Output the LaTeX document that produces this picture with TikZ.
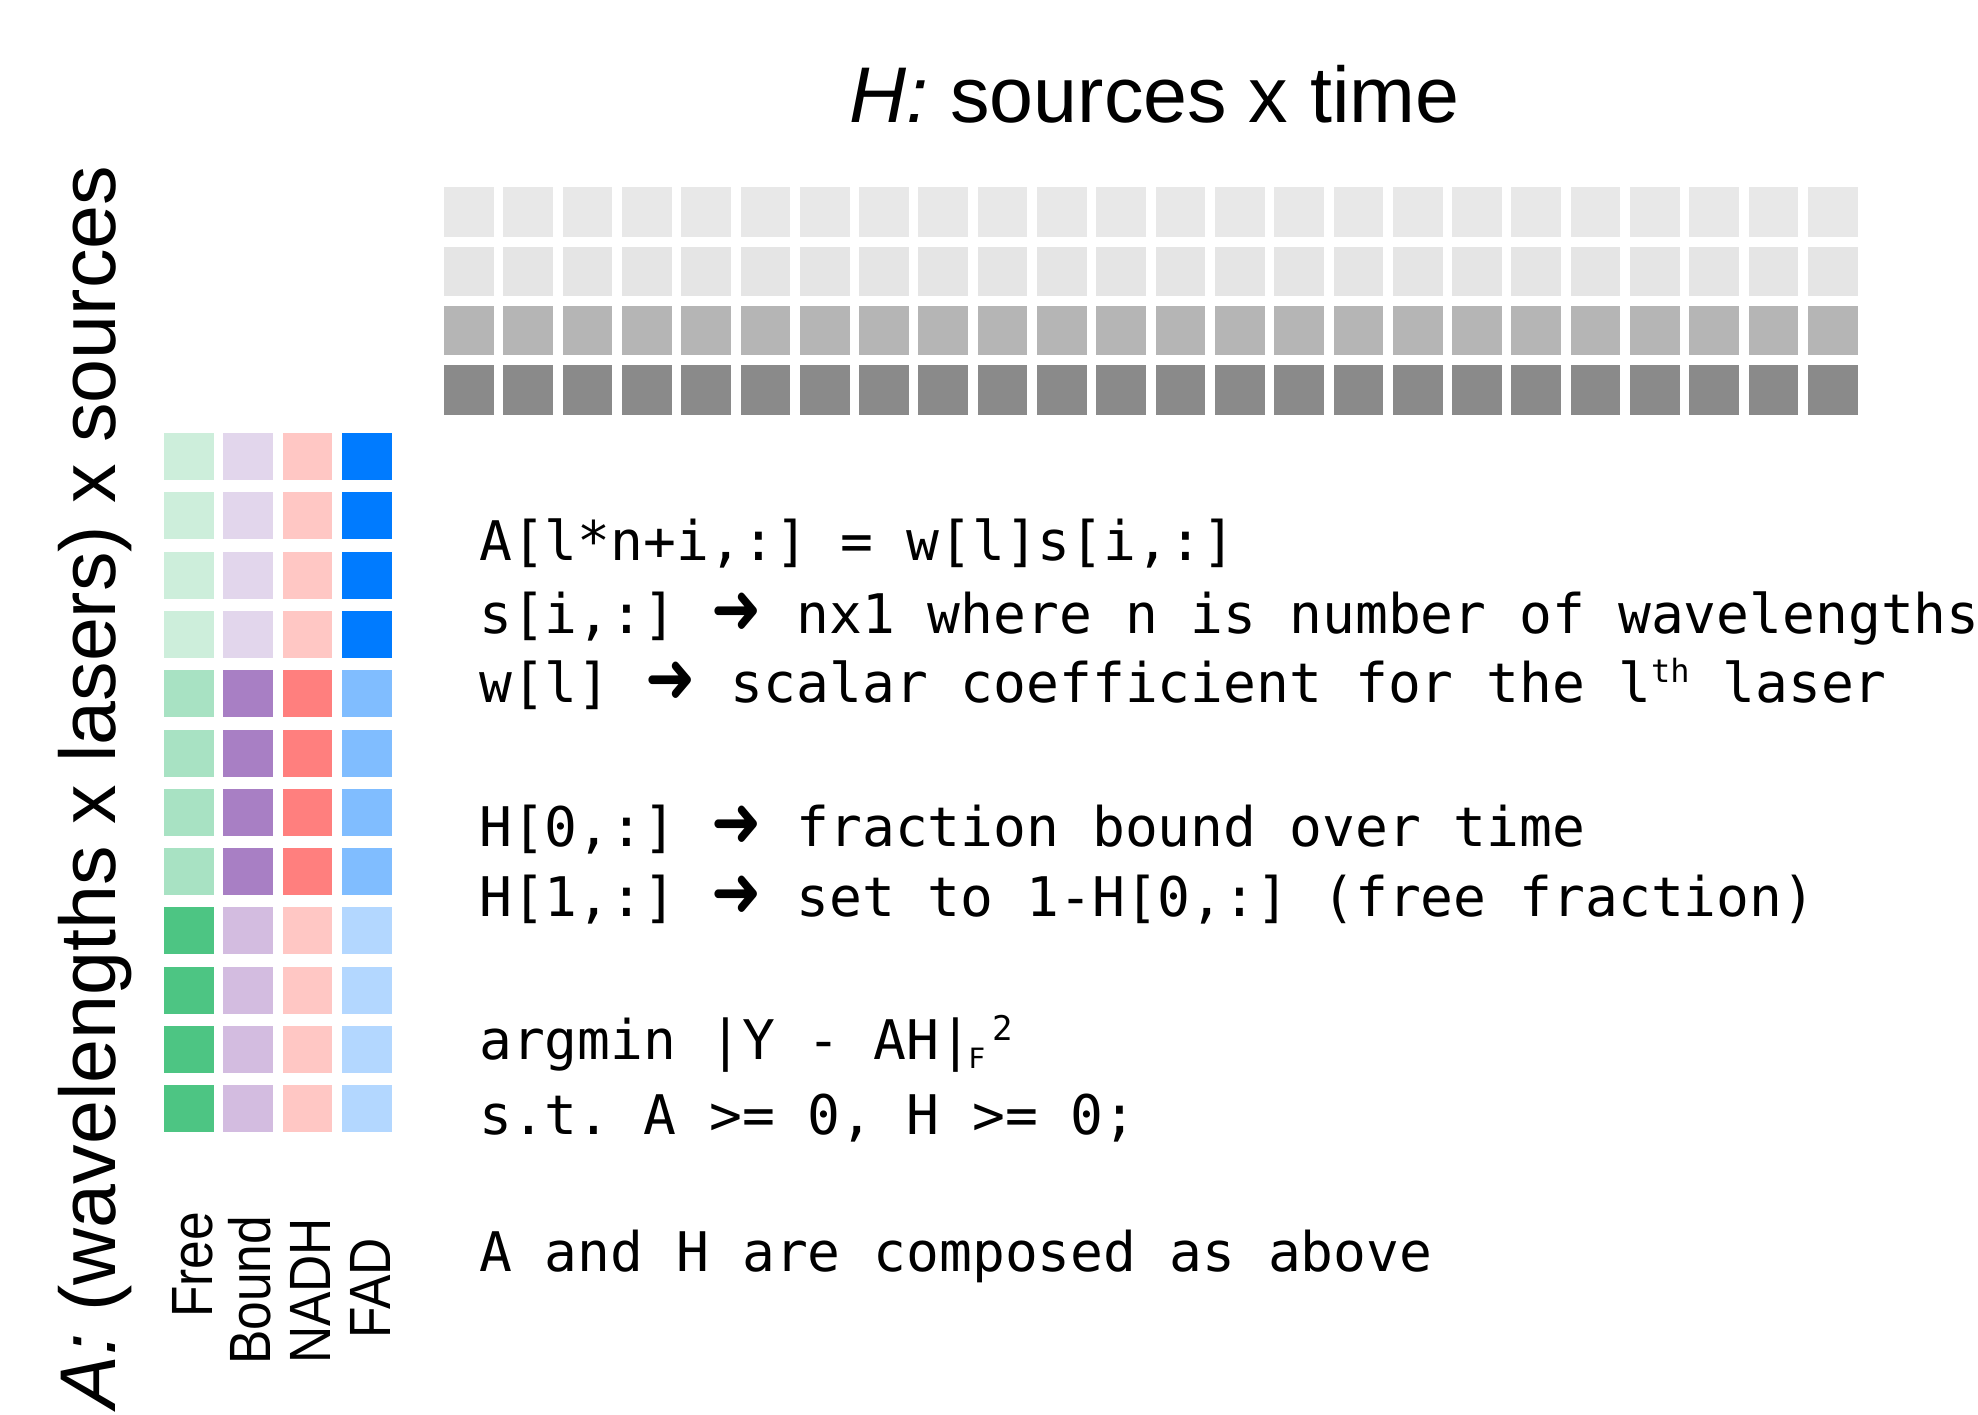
\documentclass[tikz,border=0pt]{standalone}
\usepackage{fontspec}
\usepackage{graphicx}
\setmainfont{Liberation Sans}
\newfontfamily\monof{DejaVu Sans Mono}
\newfontfamily\arrfont{DejaVu Sans}
\definecolor{H0}{HTML}{E8E8E8}
\definecolor{H1}{HTML}{E5E5E5}
\definecolor{H2}{HTML}{B5B5B5}
\definecolor{H3}{HTML}{8A8A8A}
\definecolor{A00}{HTML}{CDEEDB}
\definecolor{A01}{HTML}{A8E2C3}
\definecolor{A02}{HTML}{4DC583}
\definecolor{A10}{HTML}{E2D6EC}
\definecolor{A11}{HTML}{A87FC4}
\definecolor{A12}{HTML}{D3BCE0}
\definecolor{A20}{HTML}{FFC7C4}
\definecolor{A21}{HTML}{FF7F7E}
\definecolor{A22}{HTML}{FFC7C4}
\definecolor{A30}{HTML}{007BFF}
\definecolor{A31}{HTML}{80BDFF}
\definecolor{A32}{HTML}{B3D7FF}
\newcommand\myarr{\makebox[120pt][c]{\arrfont\scalebox{1.1}[1.3]{➜}}}
\frenchspacing
\begin{document}
\begin{tikzpicture}[x=1pt,y=-1pt,
  mono/.style={font=\monof\fontsize{54.6}{60}\selectfont, anchor=base west, inner sep=0pt},
  bigsans/.style={font=\fontsize{79}{90}\selectfont, anchor=base, inner sep=0pt},
  collab/.style={font=\fontsize{58.2}{60}\selectfont, anchor=base, inner sep=0pt, rotate=90}]
\fill[white] (0,0) rectangle (1978,1414);
\useasboundingbox (0,0) rectangle (1978,1414);
% H matrix: sources x time
\foreach \r in {0,...,3}{
  \foreach \k in {0,...,23}{
    \fill[fill=H\r] ({444+59.3*\k},{187.3+59.3*\r}) rectangle ++(49.7,49.3);
  }
}
% A matrix: (wavelengths x lasers) x sources
\foreach \j in {0,...,3}{
  \foreach \i in {0,...,11}{
    \pgfmathtruncatemacro\g{int(\i/4)}
    \fill[fill=A\j\g] ({164+59.3*\j},{433+59.3*\i}) rectangle ++(49.7,47);
  }
}
% titles
\node[bigsans] (title) at (1154.5,122.7) {\textit{H:} sources x time};
\node[bigsans, rotate=90] (alab) at (115,787) {\textit{A:} (wavelengths x lasers) x sources};
% column labels
\node[collab] (lfree) at (212,1265) {\scalebox{0.885}[1]{Free}};
\node[collab] (lbound) at (270,1290.5) {\scalebox{0.885}[1]{Bound}};
\node[collab] (lnadh) at (330,1291) {\scalebox{0.885}[1]{NADH}};
\node[collab] (lfad) at (390,1288.5) {\scalebox{0.885}[1]{FAD}};
% text lines
\node[mono] (l1) at (479,560) {A[l*n+i,:] = w[l]s[i,:]};
\node[mono] (l2) at (479,633) {s[i,:]\myarr nx1 where n is number of wavelengths};
\node[mono] (l3) at (479,702) {w[l]\myarr scalar coefficient for the l\raisebox{19.5pt}{\fontsize{32}{32}\selectfont th} laser};
\node[mono] (l4) at (479,846) {H[0,:]\myarr fraction bound over time};
\node[mono] (l5) at (479,916) {H[1,:]\myarr set to 1-H[0,:] (free fraction)};
\node[mono] (l6) at (479,1059.3) {argmin |Y - AH|\kern-4pt\raisebox{-9.3pt}{\fontsize{28}{28}\selectfont F}\kern7pt\raisebox{19pt}{\fontsize{34}{34}\selectfont 2}};
\node[mono] (l7) at (479,1134) {s.t. A >= 0, H >= 0;};
\node[mono] (l8) at (479,1271) {A and H are composed as above};
\end{tikzpicture}
\end{document}
